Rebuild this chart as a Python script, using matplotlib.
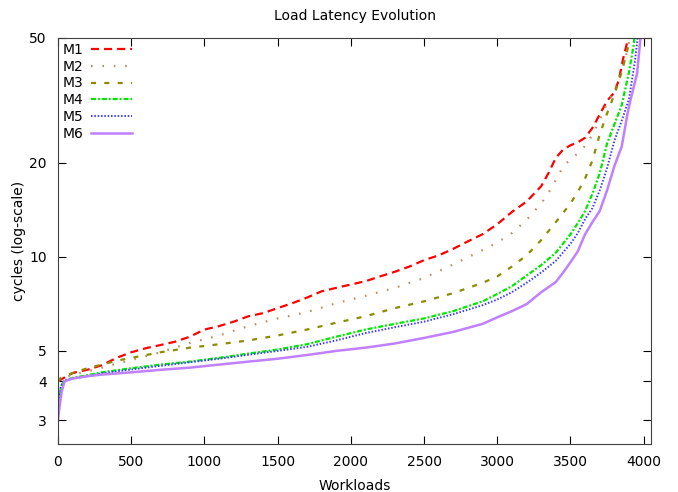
import matplotlib
matplotlib.use('Agg')
import matplotlib.pyplot as plt
from matplotlib.ticker import FixedLocator, NullLocator

# workload index (sorted) vs latency in cycles
m1_x = [0, 20, 100, 200, 300, 400, 500, 600, 700, 800, 900, 1000, 1100, 1200, 1300, 1400, 1500,
        1600, 1700, 1800, 1900, 2000, 2100, 2200, 2300, 2400, 2500, 2600, 2700, 2800, 2900, 3000,
        3100, 3200, 3300, 3350, 3400, 3450, 3500, 3550, 3600, 3650, 3700, 3750, 3800, 3830, 3860,
        3890, 3910]
m1_y = [4.0, 4.05, 4.25, 4.35, 4.5, 4.75, 4.95, 5.1, 5.22, 5.35, 5.55, 5.85, 6.0, 6.2, 6.45, 6.6,
        6.85, 7.1, 7.4, 7.75, 7.95, 8.15, 8.35, 8.65, 8.95, 9.3, 9.75, 10.1, 10.6, 11.2, 11.8, 12.7,
        13.9, 15.0, 16.8, 18.5, 20.7, 22.0, 22.7, 23.2, 24.0, 25.8, 28.5, 31.5, 33.5, 36.7, 43, 49, 56]

m2_x = [0, 20, 100, 200, 300, 400, 500, 700, 900, 1100, 1300, 1500, 1700, 1900, 2100, 2300, 2500,
        2700, 2900, 3000, 3100, 3200, 3300, 3350, 3400, 3450, 3500, 3550, 3600, 3650, 3700, 3750,
        3800, 3850, 3890, 3920]
m2_y = [4.0, 4.05, 4.2, 4.3, 4.42, 4.55, 4.67, 4.95, 5.3, 5.6, 6.0, 6.35, 6.65, 7.1, 7.5, 7.95,
        8.55, 9.45, 10.5, 11.1, 11.9, 13.1, 14.8, 16.0, 17.6, 19.4, 20.5, 21.4, 22.6, 24.5, 27.3,
        30.9, 34, 39, 46, 55]

m3_x = [0, 20, 100, 200, 300, 400, 500, 700, 900, 1100, 1300, 1500, 1700, 1900, 2100, 2300, 2500,
        2700, 2900, 3000, 3100, 3200, 3300, 3400, 3450, 3500, 3550, 3600, 3650, 3700, 3750, 3800,
        3850, 3890, 3920]
m3_y = [4.0, 4.1, 4.25, 4.4, 4.52, 4.65, 4.75, 4.95, 5.12, 5.25, 5.4, 5.6, 5.85, 6.15, 6.45, 6.85,
        7.2, 7.65, 8.25, 8.65, 9.3, 10.1, 11.3, 12.9, 13.8, 14.8, 16.1, 17.8, 20.3, 24.6, 28.7, 33,
        39, 46, 56]

m4_x = [0, 5, 20, 40, 100, 200, 300, 500, 700, 900, 1100, 1300, 1500, 1700, 1900, 2100, 2300,
        2500, 2700, 2900, 3000, 3100, 3200, 3300, 3400, 3500, 3550, 3600, 3650, 3700, 3750, 3800,
        3850, 3900, 3930, 3950]
m4_y = [3.3, 3.5, 3.85, 4.0, 4.1, 4.18, 4.27, 4.4, 4.52, 4.62, 4.75, 4.9, 5.05, 5.25, 5.55, 5.85,
        6.1, 6.35, 6.7, 7.2, 7.6, 8.05, 8.7, 9.4, 10.3, 11.8, 12.8, 14.0, 15.9, 18.5, 23.0, 26.5,
        30.5, 39, 47, 56]

m5_x = [0, 5, 20, 40, 100, 200, 300, 500, 700, 900, 1100, 1300, 1500, 1700, 1900, 2100, 2300,
        2500, 2700, 2900, 3000, 3100, 3200, 3300, 3400, 3500, 3550, 3600, 3650, 3700, 3750, 3800,
        3850, 3900, 3940, 3970]
m5_y = [3.2, 3.5, 3.85, 4.0, 4.08, 4.15, 4.24, 4.36, 4.48, 4.6, 4.72, 4.86, 5.0, 5.15, 5.4, 5.7,
        5.95, 6.2, 6.55, 7.0, 7.3, 7.7, 8.25, 8.9, 9.7, 11.0, 11.9, 13.2, 14.3, 16.3, 19.2, 23.5,
        27.2, 32, 42, 56]

m6_x = [0, 10, 25, 45, 100, 200, 300, 500, 700, 900, 1100, 1300, 1500, 1700, 1900, 2100, 2300,
        2500, 2700, 2900, 3000, 3100, 3200, 3300, 3400, 3450, 3500, 3550, 3600, 3650, 3700, 3750,
        3800, 3850, 3890, 3910, 3955, 3978, 3990]
m6_y = [3.0, 3.3, 3.7, 4.0, 4.08, 4.15, 4.2, 4.27, 4.35, 4.42, 4.52, 4.62, 4.72, 4.85, 5.0, 5.12,
        5.28, 5.5, 5.75, 6.1, 6.4, 6.7, 7.05, 7.7, 8.3, 8.9, 9.6, 10.4, 11.8, 12.9, 14.0, 16.3,
        19.5, 22.5, 28.7, 31.7, 38.5, 50, 56]

y_ticks = [3, 4, 5, 10, 20, 50]
x_ticks = [0, 500, 1000, 1500, 2000, 2500, 3000, 3500, 4000]

plt.rcParams['font.family'] = 'DejaVu Sans'
plt.rcParams['font.size'] = 10
plt.rcParams['lines.scale_dashes'] = False

fig = plt.figure(figsize=(6.78, 4.92), dpi=100)
ax = fig.add_axes([58 / 678, 48 / 492, 593 / 678, 406 / 492])

ax.plot(m1_x, m1_y, color='#ff0000', lw=1.6, dashes=(5.8, 3.6), label='M1')
ax.plot(m2_x, m2_y, color='#c09060', lw=1.6, dashes=(1.2, 7.0), label='M2')
ax.plot(m3_x, m3_y, color='#8c8c00', lw=1.6, dashes=(3.6, 6.0), label='M3')
ax.plot(m4_x, m4_y, color='#00e800', lw=1.6, dashes=(3.6, 1.4, 1.4, 1.4), label='M4')
ax.plot(m5_x, m5_y, color='#3a3aff', lw=1.4, dashes=(1.1, 1.3), label='M5')
ax.plot(m6_x, m6_y, color='#c080ff', lw=1.8, label='M6')

ax.set_yscale('log')
ax.set_xlim(0, 4050)
ax.set_ylim(2.52, 50)
ax.yaxis.set_major_locator(FixedLocator(y_ticks))
ax.yaxis.set_minor_locator(NullLocator())
ax.set_yticklabels([str(t) for t in y_ticks])
ax.set_xticks(x_ticks)
ax.tick_params(direction='in', top=True, right=True, length=6, width=0.8, pad=8)

for s in ax.spines.values():
    s.set_color('#404040')

ax.set_xlabel('Workloads', labelpad=7)
ax.set_ylabel('cycles (log-scale)', labelpad=2)
ax.set_title('Load Latency Evolution', fontsize=10, pad=13)

ax.legend(loc='upper left', markerfirst=False, frameon=False, handlelength=3.0,
          handletextpad=0.5, labelspacing=0.2, borderaxespad=0.2, borderpad=0.15,
          fontsize=10)

fig.savefig('out.png', dpi=100)
